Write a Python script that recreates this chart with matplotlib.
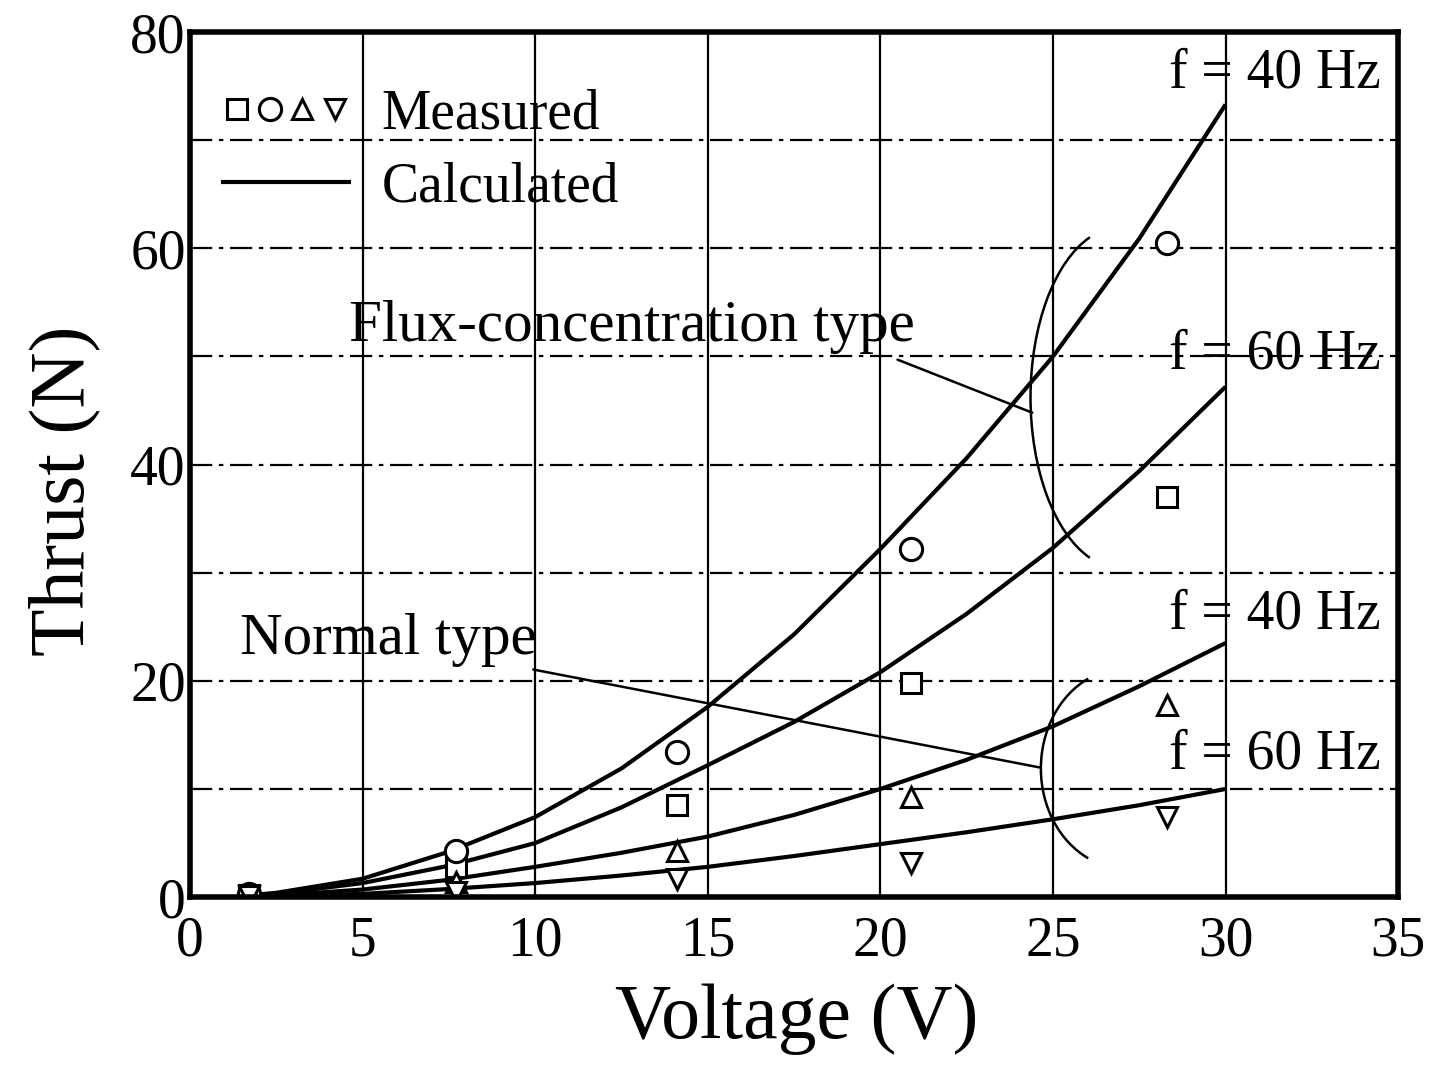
import matplotlib
matplotlib.use("Agg")
import matplotlib.pyplot as plt
from matplotlib.patches import Arc
from matplotlib.legend_handler import HandlerTuple
from matplotlib.ticker import MultipleLocator

plt.rcParams["font.family"] = ["Liberation Serif", "DejaVu Serif"]

# ── Calculated curves ──
v_calc = [1.5, 2.5, 5, 7.5, 10, 12.5, 15, 17.5, 20, 22.5, 25, 27.5, 30]
flux40_calc = [0.1, 0.4, 1.7, 4.2, 7.4, 11.9, 17.6, 24.3, 32.2, 40.6, 50.0, 60.9, 73.3]
flux60_calc = [0.1, 0.3, 1.3, 2.9, 5.0, 8.3, 12.2, 16.2, 20.8, 26.2, 32.3, 39.4, 47.2]
normal40_calc = [0.05, 0.15, 0.7, 1.6, 2.8, 4.1, 5.6, 7.6, 10.0, 12.7, 15.8, 19.5, 23.5]
normal60_calc = [0.02, 0.07, 0.3, 0.75, 1.3, 2.0, 2.8, 3.8, 4.9, 6.0, 7.2, 8.5, 10.0]

# ── Measured points ──
v_meas = [1.7, 7.7, 14.1, 20.9, 28.3]
flux40_meas = [0.3, 4.3, 13.4, 32.2, 60.5]      # circles
flux60_meas = [0.2, 2.8, 8.5, 19.8, 37.0]       # squares
normal40_meas = [0.2, 1.4, 4.3, 9.3, 17.8]      # triangles up
normal60_meas = [0.1, 0.5, 1.7, 3.2, 7.4]       # triangles down

FS = 40
LW = 3.0

fig = plt.figure(figsize=(14.34, 10.68), dpi=100)
ax = fig.add_axes([0.1325, 0.160, 0.8425, 0.810])

# grid: solid verticals, dash-dot horizontals
ax.set_xlim(0, 35)
ax.set_ylim(0, 80)
ax.set_xticks(range(0, 36, 5))
ax.set_yticks(range(0, 81, 20))
ax.yaxis.set_minor_locator(MultipleLocator(10))
ax.grid(True, axis="x", which="major", color="black", lw=1.6, ls="-")
ax.grid(True, axis="y", which="both", color="black", lw=1.6,
        ls=(0, (10, 3, 2, 3)))
ax.set_axisbelow(True)
ax.tick_params(which="both", length=0, labelsize=FS)
ax.tick_params(axis="x", pad=13)
ax.tick_params(axis="y", pad=3)
for s in ax.spines.values():
    s.set_linewidth(4)

# calculated curves
for vals in (flux40_calc, flux60_calc, normal40_calc, normal60_calc):
    line_calc, = ax.plot(v_calc, vals, color="black", lw=LW,
                         solid_capstyle="butt", solid_joinstyle="round")

# measured markers
mk = dict(ls="none", mfc="white", mec="black", mew=2.2)
h_sq, = ax.plot(v_meas, flux60_meas, marker="s", ms=15, **mk)
h_ci, = ax.plot(v_meas, flux40_meas, marker="o", ms=16, **mk)
h_tu, = ax.plot(v_meas, normal40_meas, marker="^", ms=14, **mk)
h_td, = ax.plot(v_meas, normal60_meas, marker="v", ms=14, **mk)

leg = ax.legend([(h_sq, h_ci, h_tu, h_td), line_calc],
                ["Measured", "Calculated"],
                handler_map={tuple: HandlerTuple(ndivide=None, pad=0.0)},
                loc="upper left", bbox_to_anchor=(0.0, 0.97),
                frameon=False, fontsize=FS, handlelength=2.35,
                handletextpad=0.55, labelspacing=0.38, borderaxespad=0.3,
                borderpad=0.25)
for h in leg.legend_handles:
    if isinstance(h, tuple):
        for m in h:
            m.set_markersize(14)

# frequency labels
ax.text(34.5, 76.2, "f = 40 Hz", fontsize=FS, ha="right", va="center")
ax.text(34.5, 50.2, "f = 60 Hz", fontsize=FS, ha="right", va="center")
ax.text(34.5, 26.1, "f = 40 Hz", fontsize=FS, ha="right", va="center")
ax.text(34.5, 13.2, "f = 60 Hz", fontsize=FS, ha="right", va="center")

# type labels with leader lines
ax.annotate("Flux-concentration type", xy=(24.4, 44.8), xytext=(4.6, 52.7),
            fontsize=42.5, ha="left", va="center",
            arrowprops=dict(arrowstyle="-", lw=1.8, color="black",
                            shrinkA=0, shrinkB=0,
                            relpos=(0.97, -0.1)))
ax.annotate("Normal type", xy=(24.6, 12.0), xytext=(1.45, 23.8),
            fontsize=42.5, ha="left", va="center",
            arrowprops=dict(arrowstyle="-", lw=1.8, color="black",
                            shrinkA=0, shrinkB=0,
                            relpos=(0.94, 0.0)))

# braces grouping the curves
ax.add_patch(Arc((26.95, 46.2), 5.2, 31.5, theta1=93.4, theta2=266.6,
                 color="black", lw=1.8))
ax.add_patch(Arc((27.1, 11.9), 4.9, 18.5, theta1=97.4, theta2=262.6,
                 color="black", lw=1.8))

ax.set_xlabel("Voltage (V)", fontsize=56)
ax.set_ylabel("Thrust (N)", fontsize=56)
ax.xaxis.set_label_coords(0.502, -0.100)
ax.yaxis.set_label_coords(-0.074, 0.47)

fig.savefig("out.png", dpi=100)
